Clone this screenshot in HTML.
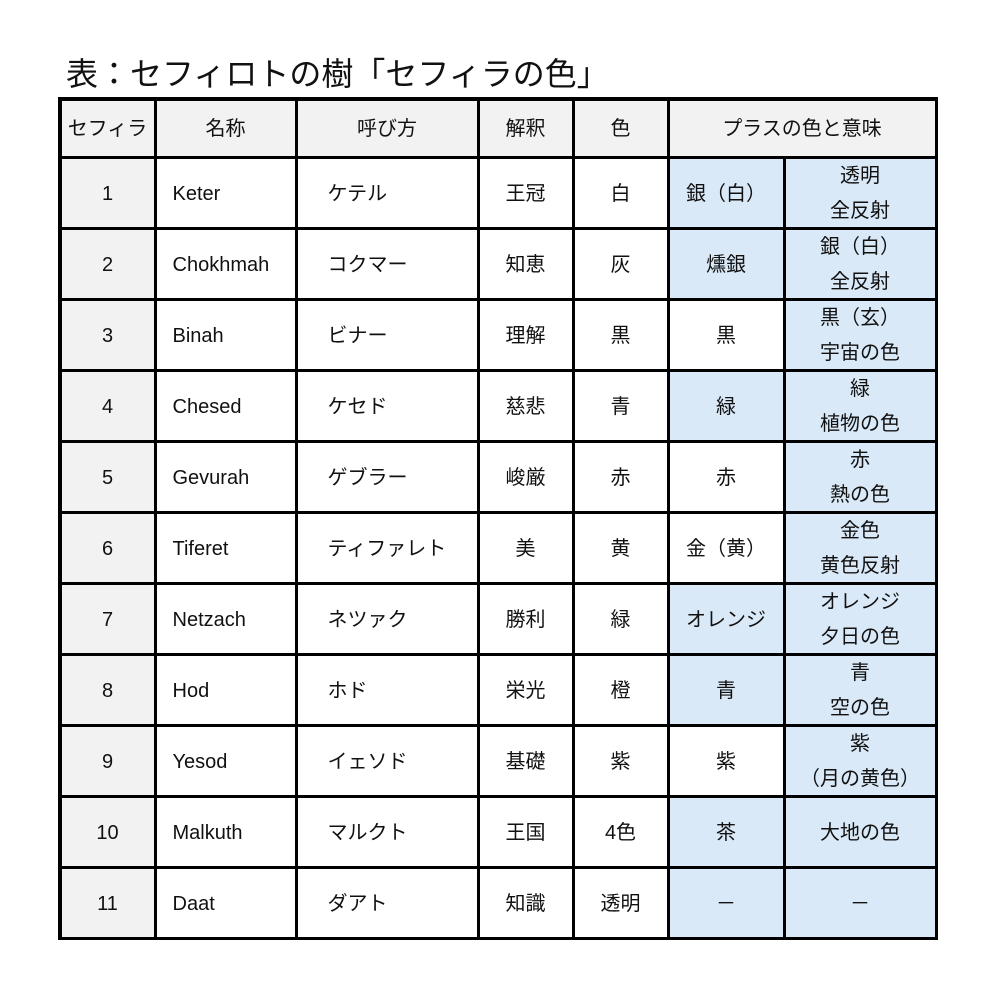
<!DOCTYPE html>
<html><head><meta charset="utf-8">
<style>
body{margin:0;width:993px;height:993px;background:#fff;position:relative;overflow:hidden;font-family:"Liberation Sans","Noto Sans CJK JP",sans-serif;color:#111}
#title{position:absolute;left:66px;top:49px;font-size:32px;white-space:nowrap}
#grid{position:absolute;left:58px;top:97px;width:880px;height:843px;background:#000}
.c{position:absolute;display:flex;align-items:center;justify-content:center;font-size:20px;line-height:35px;text-align:center;background:#fff;padding-top:3px;box-sizing:border-box}
.l{justify-content:flex-start;padding-left:16px}
.l2{justify-content:flex-start;padding-left:30px}
.g{background:#f2f2f2}.b{background:#dae9f8}
</style></head><body>
<div id="title">表：セフィロトの樹「セフィラの色」</div>
<div id="grid"></div>
<script>
const xs=[60,155,296,478,573,668,784,936];
const ys=[99,157,228,299,370,441,512,583,654,725,796,867,938];
const headers=["セフィラ","名称","呼び方","解釈","色","プラスの色と意味"];
const names=["Keter","Chokhmah","Binah","Chesed","Gevurah","Tiferet","Netzach","Hod","Yesod","Malkuth","Daat"];
const readings=["ケテル","コクマー","ビナー","ケセド","ゲブラー","ティファレト","ネツァク","ホド","イェソド","マルクト","ダアト"];
const meanings=["王冠","知恵","理解","慈悲","峻厳","美","勝利","栄光","基礎","王国","知識"];
const colors=["白","灰","黒","青","赤","黄","緑","橙","紫","4色","透明"];
const plusColors=["銀（白）","燻銀","黒","緑","赤","金（黄）","オレンジ","青","紫","茶","－"];
const plusBlue=[1,1,0,1,0,0,1,1,0,1,1];
const plusMeaning=["透明<br>全反射","銀（白）<br>全反射","黒（玄）<br>宇宙の色","緑<br>植物の色","赤<br>熱の色","金色<br>黄色反射","オレンジ<br>夕日の色","青<br>空の色","紫<br>（月の黄色）","大地の色","－"];
const grid=document.getElementById('grid');
function cell(c0,c1,r,html,cls){
  const d=document.createElement('div');
  d.className='c '+cls;
  const x0=xs[c0]+1.5-58,x1=xs[c1]-1.5-58,y0=ys[r]+1.5-97,y1=ys[r+1]-1.5-97;
  d.style.left=x0+'px';d.style.top=y0+'px';d.style.width=(x1-x0)+'px';d.style.height=(y1-y0)+'px';
  d.innerHTML=html;grid.appendChild(d);return d;
}
headers.forEach((h,i)=>{
  const d=cell(i,i===5?7:i+1,0,h,'g');
  
  
});
names.forEach((n,i)=>{
  const r=i+1;
  const vals=[[String(r),'g'],[n,'l'],[readings[i],'l2'],[meanings[i],''],[colors[i],''],[plusColors[i],plusBlue[i]?'b':''],[plusMeaning[i],'b']];
  vals.forEach((v,j)=>{
    const d=cell(j,j+1,r,v[0],v[1]);
    
    
  });
});
</script>
</body></html>
